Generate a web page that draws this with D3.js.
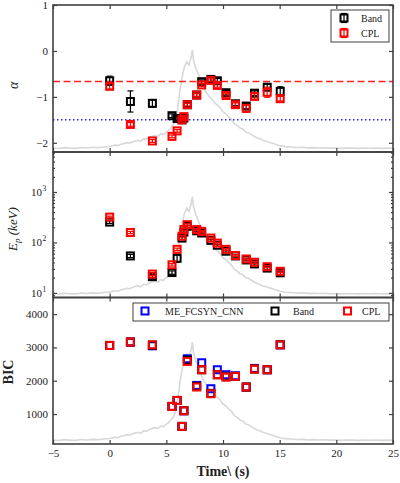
<!DOCTYPE html>
<html>
<head>
<meta charset="utf-8">
<script src="https://cdn.jsdelivr.net/npm/d3@7"></script>
<style>
  body { margin: 0; background: #fff; }
  svg, svg text { font-family: "Liberation Serif", "DejaVu Serif", serif; }
</style>
</head>
<body>
<svg id="chart" width="400" height="483"></svg>
<script>
// time bins (s)
var times = [0, 1.83, 3.77, 5.5, 5.95, 6.38, 6.55, 6.85, 7.68, 8.12, 8.93, 9.5, 10.27, 11.1, 12.05, 12.78, 13.9, 15.05];

// low-energy index alpha
var alphaBand    = [-0.65, -1.10, -1.14, -1.41, -1.47, -1.50, -1.46, -1.17, -0.96, -0.67, -0.62, -0.65, -0.91, -1.15, -1.20, -0.92, -0.79, -0.88];
var alphaBandErr = [0.10, 0.23, 0.08, 0.04, 0.04, 0.04, 0.04, 0.04, 0.04, 0.04, 0.04, 0.05, 0.05, 0.04, 0.06, 0.05, 0.07, 0.10];
var alphaCPL     = [-0.77, -1.60, -1.96, -1.86, -1.74, -1.50, -1.43, -1.17, -0.96, -0.74, -0.64, -0.75, -0.97, -1.17, -1.25, -0.99, -0.90, -1.04];
var alphaCPLErr  = [0.06, 0.04, 0.03, 0.03, 0.03, 0.03, 0.03, 0.03, 0.03, 0.03, 0.03, 0.04, 0.05, 0.04, 0.08, 0.06, 0.11, 0.05];

// peak energy (keV)
var epBand    = [253, 54, 21, 25.3, 48.6, 122, 160, 209, 170, 154, 110, 88, 67, 54, 45, 37.5, 31, 25];
var epBandErr = [15, 4, 2, 2, 8, 8, 10, 10, 8, 7, 5, 4, 3, 3, 2, 2, 2, 2];
var epCPL     = [318, 157, 23.6, 36, 73, 133, 180, 225, 180, 166, 122, 97, 73, 55, 47, 40.5, 33, 26.8];
var epCPLErr  = [14, 8, 1.5, 2, 4, 6, 8, 9, 7, 6, 5, 4, 3, 2, 2, 2, 1.5, 1.5];

// BIC
var bicME   = [3060, 3162, 3050, 1228, 1408, 628, 1099, 2660, 1860, 2540, 1760, 2330, 2180, 2150, 1810, 2370, 2330, 3080];
var bicBand = [3060, 3162, 3070, 1228, 1408, 628, 1099, 2620, 1830, 2330, 1620, 2180, 2120, 2130, 1810, 2350, 2330, 3080];
var bicCPL  = [3060, 3162, 3081, 1228, 1408, 628, 1099, 2580, 1811, 2330, 1610, 2180, 2110, 2130, 1810, 2350, 2330, 3080];

// background light curve (counts, arbitrary)
var lcTime = [-5, -4.5, -4, -3.5, -3, -2.5, -2, -1.5, -1, -0.5, 0, 0.25, 0.5, 0.75, 1, 1.25, 1.5, 1.75, 2, 2.25, 2.5, 2.75,
  3, 3.25, 3.5, 3.75, 4, 4.25, 4.5, 4.75,
  5, 5.2, 5.4, 5.6, 5.8, 6, 6.2, 6.4, 6.6, 6.8, 7, 7.2, 7.3, 7.4, 7.6, 7.8, 8, 8.2, 8.4, 8.6, 8.8, 9,
  9.2, 9.4, 9.6, 9.8, 10, 10.25, 10.5, 10.75, 11, 11.25, 11.5, 11.75, 12, 12.25, 12.5, 12.75, 13, 13.25, 13.5, 13.75,
  14, 14.5, 15, 15.5, 16, 16.5, 17, 17.5,
  18, 18.5, 19, 19.5, 20, 20.5, 21, 21.5, 22, 22.5, 23, 23.5, 24, 24.5, 25];
var lcRate = [120, 105, 130, 115, 110, 135, 120, 140, 130, 150, 165, 185, 205, 190, 235, 250, 280, 265, 300, 330, 350, 320,
  400, 380, 440, 470, 490, 460, 540, 520,
  600, 640, 720, 800, 950, 1300, 1850, 2250, 2550, 2700, 2600, 2850, 3050, 2750, 2500, 2350, 2150, 1950, 1850, 1750, 1650, 1600,
  1500, 1430, 1380, 1300, 1200, 1150, 1050, 980, 850, 800, 720, 690, 600, 580, 520, 470, 420, 400, 350, 330,
  300, 250, 190, 160, 150, 135, 140, 125,
  130, 120, 125, 115, 120, 110, 120, 115, 110, 118, 112, 120, 108, 115, 110];

var xTicks = [-5, 0, 5, 10, 15, 20, 25];

var svg = d3.select("#chart");
var left = 53, right = 393;
var axisColor = "#404040";
var serif = "Liberation Serif, DejaVu Serif, serif";

var x = d3.scaleLinear().domain([-5, 25]).range([left, right]);

var panels = [
  { top: 5, bottom: 152 },
  { top: 152, bottom: 297.5 },
  { top: 297.5, bottom: 444 }
];

var yA = d3.scaleLinear().domain([-2.2, 1]).range([panels[0].bottom, panels[0].top]);
var yE = d3.scaleLog().domain([8.1, 6200]).range([panels[1].bottom, panels[1].top]);
var yB = d3.scaleLinear().domain([100, 4500]).range([panels[2].bottom, panels[2].top]);

// clip paths per panel
var defs = svg.append("defs");
panels.forEach(function(p, i) {
  defs.append("clipPath").attr("id", "clip" + i)
    .append("rect").attr("x", left).attr("y", p.top).attr("width", right - left).attr("height", p.bottom - p.top);
});

// light curve behind each panel
panels.forEach(function(p, i) {
  var yl = d3.scaleLinear().domain([0, 4400]).range([p.bottom, p.top]);
  var line = d3.line().x(function(d, j) { return x(lcTime[j]); }).y(function(d) { return yl(d); });
  svg.append("path")
    .attr("clip-path", "url(#clip" + i + ")")
    .attr("d", line(lcRate))
    .attr("fill", "none")
    .attr("stroke", "#d8d8d8")
    .attr("stroke-width", 1.6);
});

// reference lines in alpha panel
svg.append("line")
  .attr("x1", left).attr("x2", right)
  .attr("y1", yA(-2 / 3)).attr("y2", yA(-2 / 3))
  .attr("stroke", "#ff2020").attr("stroke-width", 1.5).attr("stroke-dasharray", "7,3.5");
svg.append("line")
  .attr("x1", left).attr("x2", right)
  .attr("y1", yA(-1.5)).attr("y2", yA(-1.5))
  .attr("stroke", "#2a2aff").attr("stroke-width", 1.5).attr("stroke-dasharray", "1.5,2.5");

// square markers with error bars
function drawSeries(g, vals, errs, y, color) {
  var grp = g.append("g");
  if (errs) {
    vals.forEach(function(v, i) {
      var cx = x(times[i]);
      var y1 = y(v - errs[i]), y2 = y(v + errs[i]);
      grp.append("line").attr("x1", cx).attr("x2", cx).attr("y1", y1).attr("y2", y2)
        .attr("stroke", color).attr("stroke-width", 1.2);
      [y1, y2].forEach(function(yy) {
        grp.append("line").attr("x1", cx - 3).attr("x2", cx + 3).attr("y1", yy).attr("y2", yy)
          .attr("stroke", color).attr("stroke-width", 1.2);
      });
    });
  }
  grp.selectAll("rect").data(vals).enter().append("rect")
    .attr("x", function(d, i) { return x(times[i]) - 3.5; })
    .attr("y", function(d) { return y(d) - 3.5; })
    .attr("width", 7).attr("height", 7)
    .attr("fill", "none")
    .attr("stroke", color).attr("stroke-width", 2);
}

drawSeries(svg, alphaBand, alphaBandErr, yA, "#000");
drawSeries(svg, alphaCPL, alphaCPLErr, yA, "#ff0000");
drawSeries(svg, epBand, epBandErr, yE, "#000");
drawSeries(svg, epCPL, epCPLErr, yE, "#ff0000");
drawSeries(svg, bicME, null, yB, "#0000ff");
drawSeries(svg, bicBand, null, yB, "#000");
drawSeries(svg, bicCPL, null, yB, "#ff0000");

// axes
function styleAxis(g) {
  g.attr("font-family", serif).attr("font-size", 11);
  g.select(".domain").remove();
  g.selectAll(".tick line").attr("stroke", axisColor).attr("stroke-width", 1.2);
  g.selectAll("text").attr("fill", "#222");
  return g;
}

panels.forEach(function(p, i) {
  var gb = svg.append("g").attr("transform", "translate(0," + p.bottom + ")")
    .call(d3.axisBottom(x).tickValues(xTicks).tickSize(-4).tickPadding(5)
      .tickFormat(i === 2 ? d3.format("") : ""));
  styleAxis(gb);
  var gt = svg.append("g").attr("transform", "translate(0," + p.top + ")")
    .call(d3.axisTop(x).tickValues(xTicks).tickSize(-4).tickFormat(""));
  styleAxis(gt);
});

// alpha axis
styleAxis(svg.append("g").attr("transform", "translate(" + left + ",0)")
  .call(d3.axisLeft(yA).tickValues([-2, -1, 0, 1]).tickSize(-4).tickPadding(5).tickFormat(d3.format("d"))));
styleAxis(svg.append("g").attr("transform", "translate(" + right + ",0)")
  .call(d3.axisRight(yA).tickValues([-2, -1, 0, 1]).tickSize(-4).tickFormat("")));

// Ep axis (log)
var epMajor = [10, 100, 1000];
var epMinor = [9];
[10, 100, 1000].forEach(function(dec) {
  for (var k = 2; k <= 9; k++) { if (dec * k < 6200) epMinor.push(dec * k); }
});
styleAxis(svg.append("g").attr("transform", "translate(" + left + ",0)")
  .call(d3.axisLeft(yE).tickValues(epMajor).tickSize(-4).tickFormat("")));
styleAxis(svg.append("g").attr("transform", "translate(" + left + ",0)")
  .call(d3.axisLeft(yE).tickValues(epMinor).tickSize(-2).tickFormat("")));
styleAxis(svg.append("g").attr("transform", "translate(" + right + ",0)")
  .call(d3.axisRight(yE).tickValues(epMajor).tickSize(-4).tickFormat("")));
styleAxis(svg.append("g").attr("transform", "translate(" + right + ",0)")
  .call(d3.axisRight(yE).tickValues(epMinor).tickSize(-2).tickFormat("")));
epMajor.forEach(function(v) {
  svg.append("text")
    .attr("x", left - 11).attr("y", yE(v) + 4)
    .attr("text-anchor", "end")
    .attr("font-family", serif).attr("font-size", 11).attr("fill", "#222")
    .text("10");
  svg.append("text")
    .attr("x", left - 10.5).attr("y", yE(v) - 1)
    .attr("font-family", serif).attr("font-size", 7.5).attr("fill", "#222")
    .text(Math.log10(v));
});

// BIC axis
var bicTicks = [1000, 2000, 3000, 4000];
styleAxis(svg.append("g").attr("transform", "translate(" + left + ",0)")
  .call(d3.axisLeft(yB).tickValues(bicTicks).tickSize(-4).tickPadding(5).tickFormat(d3.format("d"))));
styleAxis(svg.append("g").attr("transform", "translate(" + right + ",0)")
  .call(d3.axisRight(yB).tickValues(bicTicks).tickSize(-4).tickFormat("")));

// frames
panels.forEach(function(p) {
  svg.append("rect")
    .attr("x", left).attr("y", p.top)
    .attr("width", right - left).attr("height", p.bottom - p.top)
    .attr("fill", "none").attr("stroke", axisColor).attr("stroke-width", 1.6);
});

// axis titles
svg.append("text")
  .attr("transform", "translate(18," + (yA(-0.75)) + ") rotate(-90)")
  .attr("text-anchor", "middle")
  .attr("font-family", serif).attr("font-size", 14).attr("font-style", "italic").attr("fill", "#222")
  .text("α");

var epLab = svg.append("text")
  .attr("transform", "translate(17,229) rotate(-90)")
  .attr("text-anchor", "middle")
  .attr("font-family", serif).attr("font-size", 13).attr("font-style", "italic").attr("fill", "#222");
epLab.append("tspan").text("E");
epLab.append("tspan").attr("dy", 3).attr("font-size", 9).text("p");
epLab.append("tspan").attr("dy", -3).text(" (keV)");

svg.append("text")
  .attr("transform", "translate(13,372) rotate(-90)")
  .attr("text-anchor", "middle")
  .attr("font-family", serif).attr("font-size", 14).attr("font-weight", "bold").attr("fill", "#222")
  .text("BIC");

svg.append("text")
  .attr("x", x(10)).attr("y", 476)
  .attr("text-anchor", "middle")
  .attr("font-family", serif).attr("font-size", 14).attr("font-weight", "bold").attr("fill", "#222")
  .text("Time\\ (s)");

// legends
function legendMarker(cx, cy, color, withErr) {
  if (withErr) {
    svg.append("line").attr("x1", cx).attr("x2", cx).attr("y1", cy - 4.5).attr("y2", cy + 4.5)
      .attr("stroke", color).attr("stroke-width", 1.2);
    [cy - 4.5, cy + 4.5].forEach(function(yy) {
      svg.append("line").attr("x1", cx - 3).attr("x2", cx + 3).attr("y1", yy).attr("y2", yy)
        .attr("stroke", color).attr("stroke-width", 1.2);
    });
  }
  svg.append("rect").attr("x", cx - 3.5).attr("y", cy - 3.5).attr("width", 7).attr("height", 7)
    .attr("fill", "none").attr("stroke", color).attr("stroke-width", 2);
}
function legendText(tx, ty, s) {
  svg.append("text").attr("x", tx).attr("y", ty + 3.5)
    .attr("font-family", serif).attr("font-size", 10).attr("fill", "#222").text(s);
}

svg.append("rect").attr("x", 331).attr("y", 10).attr("width", 58).attr("height", 32)
  .attr("fill", "#fff").attr("stroke", axisColor).attr("stroke-width", 1);
legendMarker(344, 18, "#000", true);
legendText(361, 18, "Band");
legendMarker(344, 33, "#ff0000", true);
legendText(361, 33, "CPL");

svg.append("rect").attr("x", 133).attr("y", 303).attr("width", 256).attr("height", 18)
  .attr("fill", "#fff").attr("stroke", axisColor).attr("stroke-width", 1);
legendMarker(145, 311, "#0000ff", false);
legendText(165, 311, "ME_FCSYN_CNN");
legendMarker(275, 311, "#000", false);
legendText(293, 311, "Band");
legendMarker(347.5, 311, "#ff0000", false);
legendText(362, 311, "CPL");
</script>
</body>
</html>
